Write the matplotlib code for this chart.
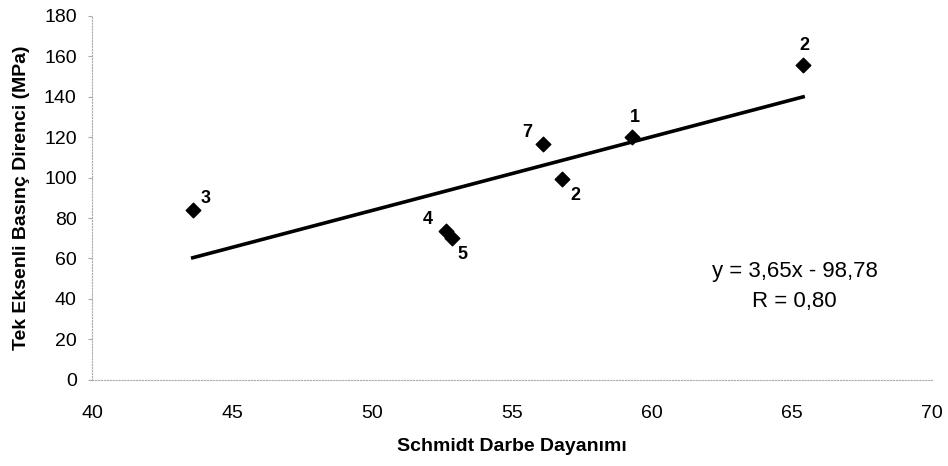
import numpy as np
import matplotlib.pyplot as plt

plt.rcParams['font.family'] = ['Liberation Sans', 'DejaVu Sans']

schmidt = [59.3, 65.4, 43.6, 52.65, 52.85, 56.1, 56.8]
ucs = [120, 155.5, 84, 73.5, 70, 116.5, 99.5]
labels = ['1', '2', '3', '4', '5', '7', '2']
label_offsets = [(-2, 8), (-3, 8), (6, 2), (-17, 2), (4, -18), (-15, 2), (6, -18)]

slope = 3.65
intercept = -98.78
fit_x = np.array([min(schmidt), max(schmidt)])
fit_y = slope * fit_x + intercept

fig = plt.figure(figsize=(9.48, 4.66), dpi=100)
ax = fig.add_axes([0.097, 0.185, 0.886, 0.781])

ax.plot(fit_x, fit_y, color='black', linewidth=2.6, zorder=2)
ax.scatter(schmidt, ucs, marker='D', s=55, color='black', zorder=3)

for x, y, lab, off in zip(schmidt, ucs, labels, label_offsets):
    ax.annotate(lab, (x, y), xytext=off, textcoords='offset points',
                fontsize=13, fontweight='bold', ha='left', va='bottom')

ax.text(65.1, 53.5, 'y = 3,65x - 98,78', fontsize=16, ha='center', va='center')
ax.text(65.1, 38.8, 'R = 0,80', fontsize=16, ha='center', va='center')

ax.set_xlim(40, 70)
ax.set_ylim(0, 180)
ax.set_xticks(range(40, 71, 5))
ax.set_yticks(range(0, 181, 20))
ax.tick_params(axis='both', labelsize=14, length=3, color='#aaaaaa')
ax.tick_params(axis='y', pad=8)
ax.tick_params(axis='x', length=0, pad=18)

for side in ['top', 'right']:
    ax.spines[side].set_visible(False)
for side in ['left', 'bottom']:
    ax.spines[side].set_linestyle(':')
    ax.spines[side].set_color('#aaaaaa')
    ax.spines[side].set_linewidth(0.8)

ax.set_xlabel('Schmidt Darbe Dayanımı', fontsize=14, fontweight='bold', labelpad=12)
ax.set_ylabel('Tek Eksenli Basınç Direnci (MPa)', fontsize=14, fontweight='bold', labelpad=10)

fig.savefig('out.png', dpi=100)
